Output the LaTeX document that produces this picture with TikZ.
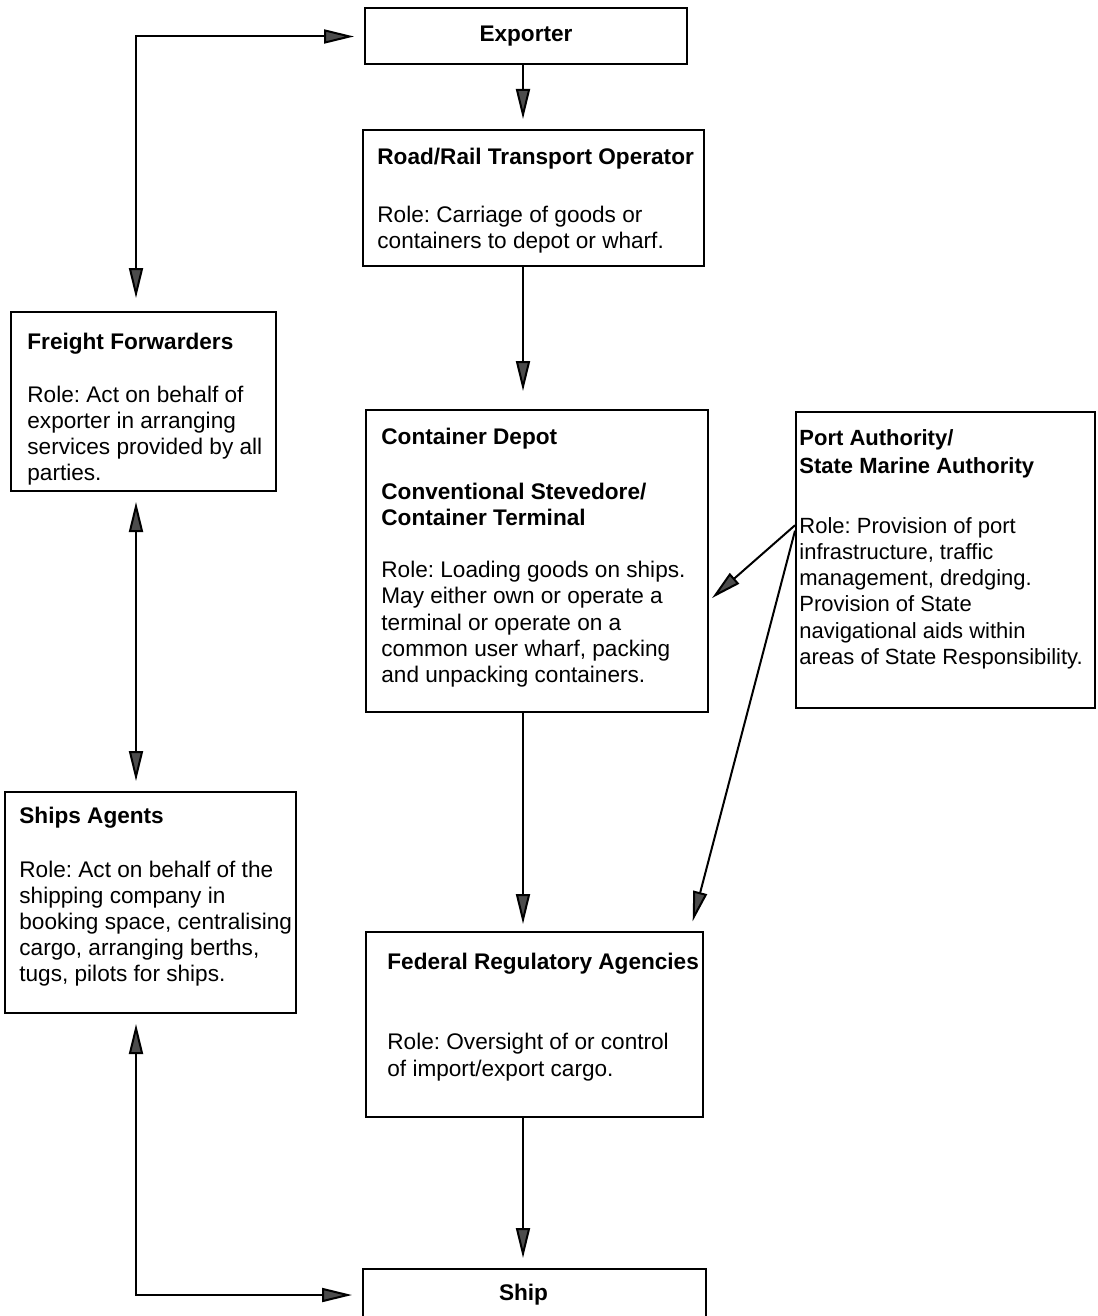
\documentclass[tikz,border=0pt]{standalone}
\usepackage{fontspec}
\setmainfont{Liberation Sans}
\usetikzlibrary{arrows.meta}
\frenchspacing

\tikzset{
    box/.style={draw, line width=1pt, inner sep=0pt},
    txt/.style={anchor=north west, inner sep=0pt, align=left, font=\fontsize{11.3}{13.1}\selectfont},
    link/.style={line width=1pt, -{Triangle[length=15pt, width=7pt, fill=black!70]}, shorten >=4pt},
    links/.style={line width=1pt, {Triangle[length=15pt, width=7pt, fill=black!70]}-{Triangle[length=15pt, width=7pt, fill=black!70]}, shorten >=5pt, shorten <=5pt}
}

\begin{document}
\begin{tikzpicture}[x=0.5pt, y=-0.5pt]
    \useasboundingbox (0,0) rectangle (1097,1316);

    % boxes
    \node[box, minimum width=161pt, minimum height=28pt, font=\fontsize{11.3}{13.1}\selectfont\bfseries] (exporter) at (526,36.5) {Exporter};
    \node[box, minimum width=170.5pt, minimum height=68pt] (road) at (533.5,198) {};
    \node[box, minimum width=132.5pt, minimum height=89.5pt] (ff) at (143.5,401.5) {};
    \node[box, minimum width=171pt, minimum height=151pt] (depot) at (537,561) {};
    \node[box, minimum width=149.5pt, minimum height=148pt] (port) at (945.5,560) {};
    \node[box, minimum width=145.5pt, minimum height=110.5pt] (sa) at (150.5,902.5) {};
    \node[box, minimum width=168.5pt, minimum height=92.5pt] (fed) at (534.5,1024.5) {};
    \node[box, minimum width=171.5pt, minimum height=26pt, font=\fontsize{11.3}{13.1}\selectfont\bfseries] (ship) at (534.5,1295) {Ship\hspace*{11pt}};

    % texts inside the boxes
    \node[txt] (roadText) at (377,148) {\textbf{Road/Rail Transport Operator}\\[15.9pt]
        Role: Carriage of goods or\\ containers to depot or wharf.};
    \node[txt] (ffText) at (27,333) {\textbf{Freight Forwarders}\\[13.1pt]
        Role: Act on behalf of\\ exporter in arranging\\ services provided by all\\ parties.};
    \node[txt] (depotText) at (381,428) {\textbf{Container Depot}\\[14.1pt]
        \textbf{Conventional Stevedore/}\\ \textbf{Container Terminal}\\[13.1pt]
        Role: Loading goods on ships.\\ May either own or operate a\\ terminal or operate on a\\
        common user wharf, packing\\ and unpacking containers.};
    \node[txt, font=\fontsize{11}{13.1}\selectfont] (portText) at (799,429) {\textbf{Port Authority/}\\[0.9pt]
        \textbf{State Marine Authority}\\[16.9pt]
        Role: Provision of port\\ infrastructure, traffic\\ management, dredging.\\ Provision of State\\
        navigational aids within\\ areas of State Responsibility.};
    \node[txt] (saText) at (19,807) {\textbf{Ships Agents}\\[13.6pt]
        Role: Act on behalf of the\\ shipping company in\\ booking space, centralising\\
        cargo, arranging berths,\\ tugs, pilots for ships.};
    \node[txt] (fedText) at (387,953) {\textbf{Federal Regulatory Agencies}\\[27pt]
        Role: Oversight of or control\\ of import/export cargo.};

    % spines of the connectors
    \coordinate (spine) at (523,0);
    \coordinate (left) at (136,0);

    % main chain
    \draw[link, shorten >=5pt] (spine |- exporter.south) -- (spine |- road.north);
    \draw[link, shorten >=9pt] (spine |- road.south) -- (spine |- depot.north);
    \draw[link, shorten >=3.5pt] (spine |- depot.south) -- (spine |- fed.north);
    \draw[link, shorten >=5pt] (spine |- fed.south) -- (spine |- ship.north);

    % left side, both ways
    \draw[links, shorten <=6.5pt] (left |- ff.north) |- (exporter.west);
    \draw[links] (left |- ff.south) -- (left |- sa.north);
    \draw[links] (left |- sa.south) |- (ship.west);

    % port authority
    \draw[link, shorten >=2pt] (port.167) -- (depot.-13);
    \draw[link, shorten >=5pt] (port.169.5) -- (fed.31);
\end{tikzpicture}
\end{document}
